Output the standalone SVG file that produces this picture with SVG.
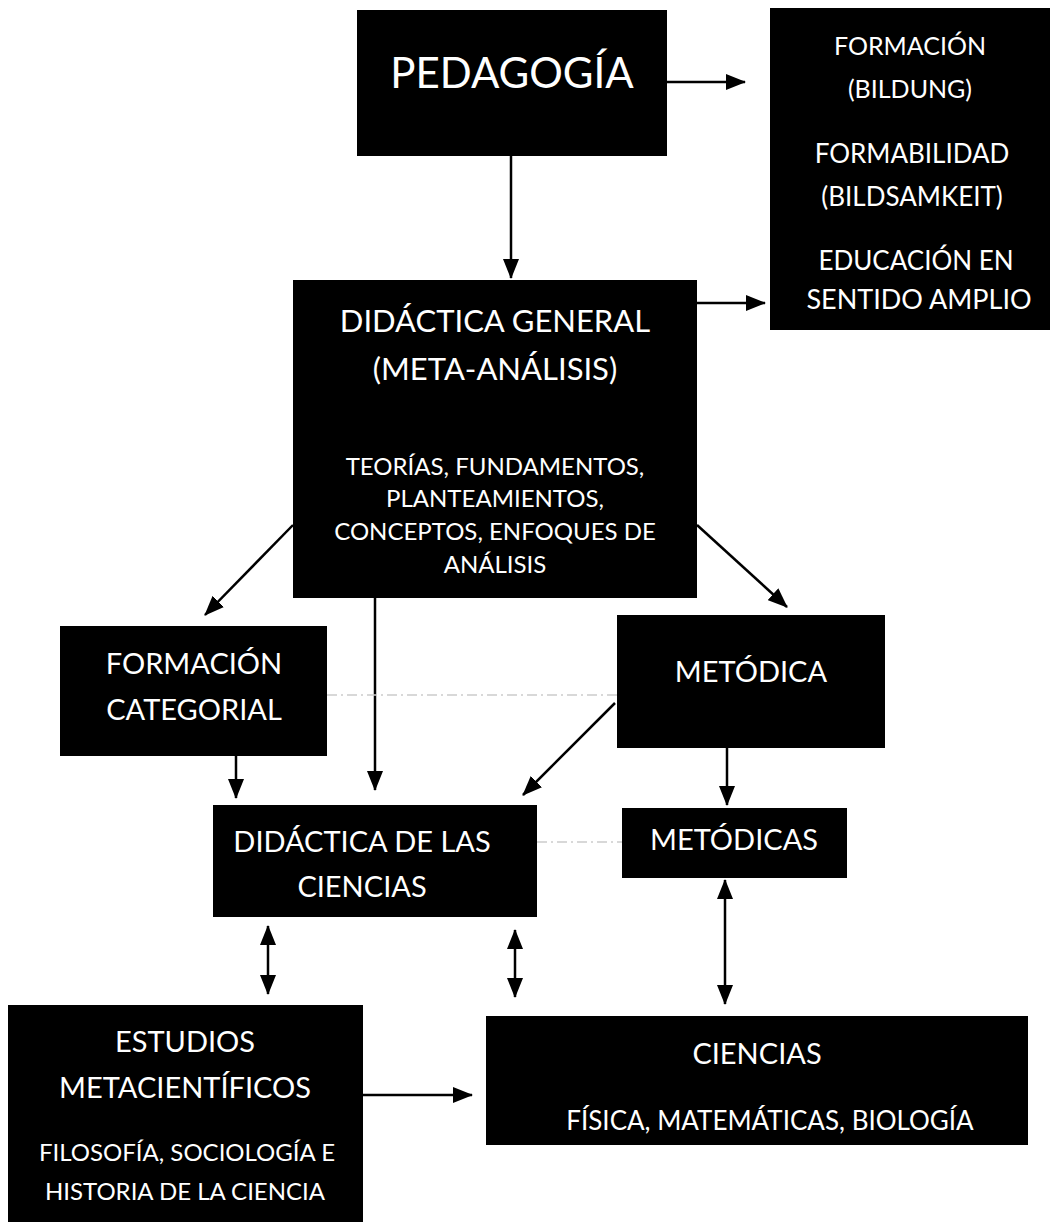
<svg xmlns="http://www.w3.org/2000/svg" width="1052" height="1222" viewBox="0 0 1052 1222">
<style>
.box{fill:#000}
text{fill:#fff;font-family:Lato,"Open Sans","Liberation Sans",sans-serif;text-anchor:middle;dominant-baseline:central}
.l{font-size:42px}
.m{font-size:29px}
.s{font-size:24px}
.c{stroke:#000;stroke-width:2.5;fill:none}
.d{stroke:#ccc;stroke-width:1.5;stroke-dasharray:10 4 2 4;fill:none}
</style>
<defs>
<marker id="a" viewBox="0 0 20 16" refX="19" refY="8" markerWidth="20" markerHeight="16" orient="auto-start-reverse" markerUnits="userSpaceOnUse">
<path d="M0,0 L20,8 L0,16 z" fill="#000"/>
</marker>
</defs>
<g id="connectors">
<line class="c" x1="667" y1="82" x2="745" y2="82" marker-end="url(#a)"/>
<line class="c" x1="511" y1="156" x2="511" y2="278" marker-end="url(#a)"/>
<line class="c" x1="697" y1="303" x2="765" y2="303" marker-end="url(#a)"/>
<line class="c" x1="293" y1="525" x2="205" y2="615" marker-end="url(#a)"/>
<line class="c" x1="697" y1="525" x2="787" y2="607" marker-end="url(#a)"/>
<line class="c" x1="375" y1="598" x2="375" y2="790" marker-end="url(#a)"/>
<line class="d" x1="327" y1="695" x2="617" y2="695"/>
<line class="c" x1="236" y1="756" x2="236" y2="798" marker-end="url(#a)"/>
<line class="c" x1="615" y1="703" x2="523" y2="795" marker-end="url(#a)"/>
<line class="c" x1="727" y1="748" x2="727" y2="805" marker-end="url(#a)"/>
<line class="d" x1="537" y1="842" x2="622" y2="842"/>
<line class="c" x1="268" y1="926" x2="268" y2="994" marker-start="url(#a)" marker-end="url(#a)"/>
<line class="c" x1="515" y1="930" x2="515" y2="997" marker-start="url(#a)" marker-end="url(#a)"/>
<line class="c" x1="725" y1="880" x2="725" y2="1004" marker-start="url(#a)" marker-end="url(#a)"/>
<line class="c" x1="363" y1="1095" x2="472" y2="1095" marker-end="url(#a)"/>
</g>
<g id="pedagogia">
<rect class="box" x="357" y="10" width="310" height="146"/>
<text class="l" x="512" y="72">PEDAGOGÍA</text>
</g>
<g id="formacion">
<rect class="box" x="770" y="8" width="280" height="322"/>
<text class="s" x="910" y="45" style="font-size:25px">FORMACIÓN</text>
<text class="s" x="910" y="88" style="font-size:25px">(BILDUNG)</text>
<text class="s" x="912" y="153" style="font-size:26px">FORMABILIDAD</text>
<text class="s" x="912" y="196" style="font-size:26px">(BILDSAMKEIT)</text>
<text class="s" x="916" y="260" style="font-size:26px">EDUCACIÓN EN</text>
<text class="s" x="919" y="298" style="font-size:27px">SENTIDO AMPLIO</text>
</g>
<g id="didactica-general">
<rect class="box" x="293" y="280" width="404" height="318"/>
<text class="m" x="495" y="320" style="font-size:31px">DIDÁCTICA GENERAL</text>
<text class="m" x="495" y="368" style="font-size:31px">(META-ANÁLISIS)</text>
<text class="s" x="495" y="465">TEORÍAS, FUNDAMENTOS,</text>
<text class="s" x="495" y="497">PLANTEAMIENTOS,</text>
<text class="s" x="495" y="530">CONCEPTOS, ENFOQUES DE</text>
<text class="s" x="495" y="563">ANÁLISIS</text>
</g>
<g id="formacion-categorial">
<rect class="box" x="60" y="626" width="267" height="130"/>
<text class="m" x="194" y="662">FORMACIÓN</text>
<text class="m" x="194" y="708">CATEGORIAL</text>
</g>
<g id="metodica">
<rect class="box" x="617" y="615" width="268" height="133"/>
<text class="m" x="751" y="670">METÓDICA</text>
</g>
<g id="didactica-ciencias">
<rect class="box" x="213" y="805" width="324" height="112"/>
<text class="m" x="362" y="840">DIDÁCTICA DE LAS</text>
<text class="m" x="362" y="885">CIENCIAS</text>
</g>
<g id="metodicas">
<rect class="box" x="622" y="808" width="225" height="70"/>
<text class="m" x="734" y="838">METÓDICAS</text>
</g>
<g id="estudios">
<rect class="box" x="8" y="1005" width="355" height="217"/>
<text class="m" x="185" y="1040">ESTUDIOS</text>
<text class="m" x="185" y="1086">METACIENTÍFICOS</text>
<text class="s" x="187" y="1151">FILOSOFÍA, SOCIOLOGÍA E</text>
<text class="s" x="185" y="1190">HISTORIA DE LA CIENCIA</text>
</g>
<g id="ciencias">
<rect class="box" x="486" y="1016" width="542" height="129"/>
<text class="m" x="757" y="1052">CIENCIAS</text>
<text class="s" x="770" y="1120" style="font-size:26px">FÍSICA, MATEMÁTICAS, BIOLOGÍA</text>
</g>
</svg>
